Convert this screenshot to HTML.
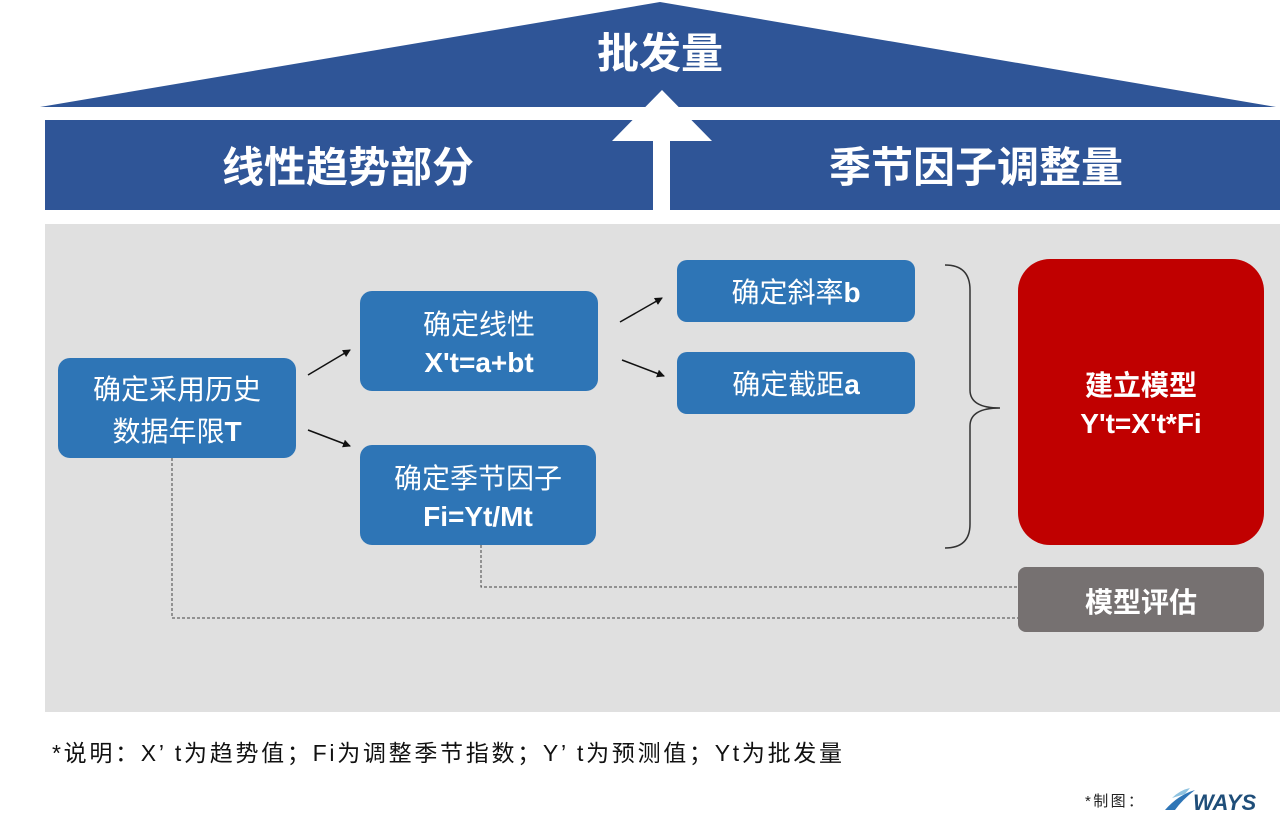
<!DOCTYPE html>
<html><head><meta charset="utf-8"><style>
body{margin:0;background:#fff;}
text{font-family:"Liberation Sans","Noto Sans CJK SC",sans-serif;}
</style></head><body>
<svg width="1280" height="822" viewBox="0 0 1280 822" xmlns="http://www.w3.org/2000/svg">
<defs><marker id="ah" markerWidth="8" markerHeight="8" refX="7" refY="4" orient="auto" markerUnits="userSpaceOnUse"><path d="M0,0 L8,4 L0,8 Z" fill="#111"/></marker></defs>
<polygon points="40,107 660,2 1276,107" fill="#2F5597"/>
<rect x="45" y="120" width="1235" height="90" fill="#2F5597"/>
<rect x="45" y="224" width="1235" height="488" fill="#E0E0E0"/>
<rect x="653" y="135" width="17" height="77" fill="#fff"/>
<polygon points="612,141 662,90 712,141" fill="#fff"/>
<text x="660" y="68" font-size="42" font-weight="bold" fill="#fff" text-anchor="middle">批发量</text>
<text x="348" y="182" font-size="42" font-weight="bold" fill="#fff" text-anchor="middle">线性趋势部分</text>
<text x="976" y="182" font-size="42" font-weight="bold" fill="#fff" text-anchor="middle">季节因子调整量</text>
<g fill="#2E75B6">
<rect x="58" y="358" width="238" height="100" rx="12"/>
<rect x="360" y="291" width="238" height="100" rx="12"/>
<rect x="360" y="445" width="236" height="100" rx="12"/>
<rect x="677" y="260" width="238" height="62" rx="10"/>
<rect x="677" y="352" width="238" height="62" rx="10"/>
</g>
<rect x="1018" y="259" width="246" height="286" rx="32" fill="#C00000"/>
<rect x="1018" y="567" width="246" height="65" rx="8" fill="#767171"/>
<g fill="#fff" font-size="28" text-anchor="middle">
<text x="177" y="399">确定采用历史</text>
<text x="177" y="441">数据年限<tspan font-weight="bold">T</tspan></text>
<text x="479" y="334">确定线性</text>
<text x="479" y="372" font-weight="bold">X't=a+bt</text>
<text x="478" y="488">确定季节因子</text>
<text x="478" y="526" font-weight="bold">Fi=Yt/Mt</text>
<text x="796" y="302">确定斜率<tspan font-weight="bold">b</tspan></text>
<text x="796" y="394">确定截距<tspan font-weight="bold">a</tspan></text>
<text x="1141" y="395" font-weight="bold">建立模型</text>
<text x="1141" y="433" font-weight="bold">Y't=X't*Fi</text>
<text x="1141" y="612" font-weight="bold">模型评估</text>
</g>
<g stroke="#111" stroke-width="1.5" marker-end="url(#ah)">
<line x1="308" y1="375" x2="350" y2="350"/>
<line x1="308" y1="430" x2="350" y2="446"/>
<line x1="620" y1="322" x2="662" y2="298"/>
<line x1="622" y1="360" x2="664" y2="376"/>
</g>
<path d="M945,265 Q970,265 970,290 L970,390 Q970,408 1000,408 Q970,408 970,426 L970,524 Q970,548 945,548" fill="none" stroke="#333" stroke-width="1.5"/>
<g fill="none" stroke="#444" stroke-width="1" stroke-dasharray="3,2">
<polyline points="172,458 172,618 1018,618"/>
<polyline points="481,545 481,587 1018,587"/>
</g>
<text x="52" y="761" font-size="23" fill="#111" textLength="790" lengthAdjust="spacing">*说明：X’ t为趋势值；Fi为调整季节指数；Y’ t为预测值；Yt为批发量</text>
<text x="1085" y="806" font-size="15" fill="#222" textLength="58" lengthAdjust="spacing">*制图：</text>
<path d="M1165,810 Q1178,795 1195,790 Q1182,800 1175,810 Z" fill="#2E75B6"/>
<path d="M1172,798 Q1180,790 1190,788 L1185,794 Z" fill="#8FC3E0"/>
<text x="1193" y="810" font-size="22" font-weight="bold" font-style="italic" fill="#1F4E79">WAYS</text>
</svg>
</body></html>
